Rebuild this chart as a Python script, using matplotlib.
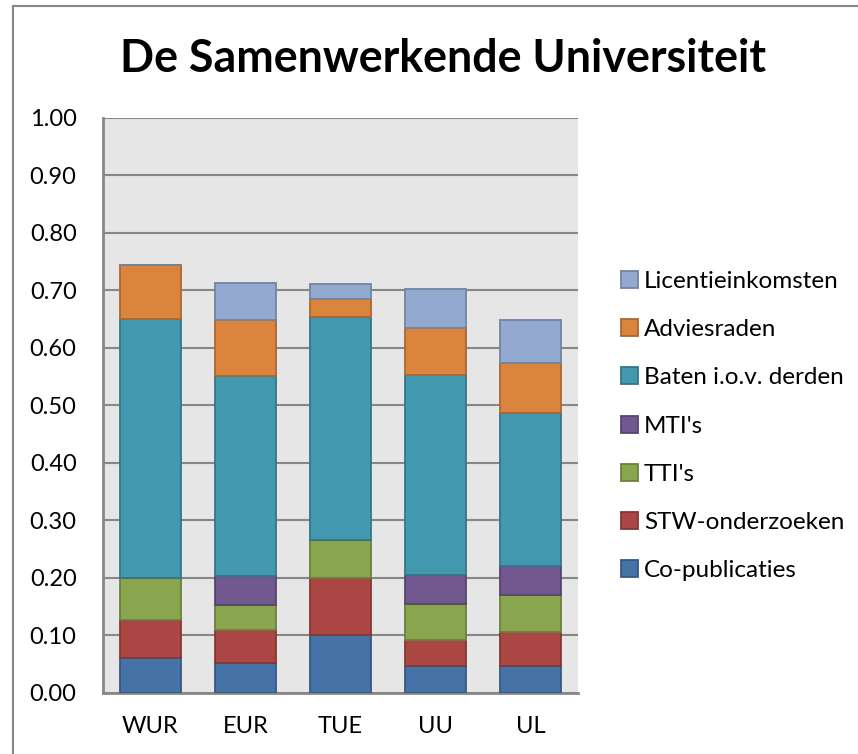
import matplotlib
matplotlib.use("Agg")
import matplotlib.pyplot as plt
import numpy as np
from matplotlib.lines import Line2D
from matplotlib.patches import Patch
from matplotlib.colors import to_rgb

plt.rcParams['font.family'] = ['Lato', 'DejaVu Sans']

categories = ['WUR', 'EUR', 'TUE', 'UU', 'UL']
series_names = ['Co-publicaties', 'STW-onderzoeken', "TTI's", "MTI's",
                'Baten i.o.v. derden', 'Adviesraden', 'Licentieinkomsten']
co_publicaties = [0.060, 0.052, 0.100, 0.047, 0.047]
stw_onderzoeken = [0.066, 0.057, 0.100, 0.045, 0.059]
tti = [0.074, 0.044, 0.065, 0.063, 0.064]
mti = [0.000, 0.050, 0.000, 0.050, 0.051]
baten = [0.451, 0.348, 0.388, 0.347, 0.266]
adviesraden = [0.094, 0.098, 0.032, 0.082, 0.087]
licentie = [0.000, 0.064, 0.027, 0.068, 0.075]
series_values = [co_publicaties, stw_onderzoeken, tti, mti, baten, adviesraden, licentie]
colors = ['#4572A7', '#AA4643', '#89A54E', '#71588F', '#4198AF', '#DB843D', '#93A9CF']
y_ticks = [0.0, 0.1, 0.2, 0.3, 0.4, 0.5, 0.6, 0.7, 0.8, 0.9, 1.0]

fig = plt.figure(figsize=(8.58, 7.54), dpi=100)
ax = fig.add_axes([103/858, 1-692.7/754, 475/858, (692.7-118)/754])
ax.set_facecolor('#E6E6E6')

x = np.arange(len(categories))
bottom = np.zeros(len(categories))
handles = []
for name, vals, c in zip(series_names, series_values, colors):
    vals = np.array(vals)
    ec = tuple(v * 0.78 for v in to_rgb(c))
    ax.bar(x, vals, width=0.65, bottom=bottom, color=c, edgecolor=ec,
           linewidth=1.3, zorder=3)
    bottom += vals
    handles.append(Patch(facecolor=c, edgecolor=ec, linewidth=1.3, label=name))

ax.set_xlim(-0.5, len(categories) - 0.5)
ax.set_ylim(0, 1.0)
ax.set_yticks(y_ticks)
ax.set_yticklabels([f'{v:.2f}' for v in y_ticks])
ax.set_xticks(x)
ax.set_xticklabels(categories)
ax.grid(axis='y', color='#878787', linewidth=1.5, zorder=1)
ax.tick_params(axis='both', length=0, labelsize=17)
ax.tick_params(axis='y', pad=19)
ax.tick_params(axis='x', pad=17)
for s in ['top', 'right']:
    ax.spines[s].set_visible(False)
for s in ['left', 'bottom']:
    ax.spines[s].set_color('#878787')
    ax.spines[s].set_linewidth(2)

fig.text(443.5/858, 1-59/754, 'De Samenwerkende Universiteit', ha='center', va='center',
         fontsize=32.2, fontweight='bold')

leg = fig.legend(handles=handles[::-1], loc='upper left',
                 bbox_to_anchor=(621/858, 1-271/754), frameon=False,
                 fontsize=17.5, handlelength=0.7, handleheight=0.7,
                 handletextpad=0.25, labelspacing=1.12, borderpad=0, borderaxespad=0)

# chart border (top and left edges visible)
fig.add_artist(Line2D([13/858, 13/858], [0, 1-6/754], transform=fig.transFigure,
                      color='#868686', linewidth=1.5))
fig.add_artist(Line2D([13/858, 1], [1-6/754, 1-6/754], transform=fig.transFigure,
                      color='#868686', linewidth=1.5))

fig.savefig('out.png', dpi=100)
